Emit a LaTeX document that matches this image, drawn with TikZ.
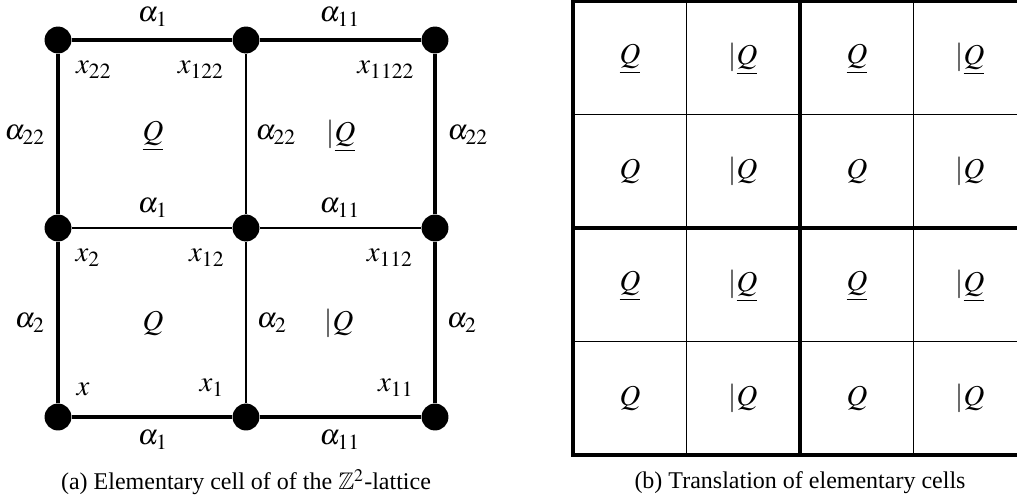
\documentclass[tikz,border=0pt]{standalone}
\usepackage{amssymb}
\usepackage{mathptmx}
\usepackage{fontspec}
\setmainfont{Liberation Serif}
\begin{document}
\begin{tikzpicture}[x=0.41667pt,y=-0.41667pt,
  dot/.style={circle,fill=black,inner sep=0pt,minimum size=11.2pt},
  thickedge/.style={line width=1.7pt},
  thinedge/.style={line width=0.45pt},
  lbl/.style={inner sep=0pt,font=\fontsize{12}{14}\selectfont},
  captext/.style={inner sep=0pt,font=\fontsize{10}{12}\selectfont}]
\useasboundingbox (0,0) rectangle (1017,500);
% ---------- left: elementary cell ----------
\node[dot] (d00) at (58,417) {};
\node[dot] (d10) at (246,417) {};
\node[dot] (d20) at (435,417) {};
\node[dot] (d01) at (58,228) {};
\node[dot] (d11) at (246,228) {};
\node[dot] (d21) at (435,228) {};
\node[dot] (d02) at (58,40) {};
\node[dot] (d12) at (246,40) {};
\node[dot] (d22) at (435,40) {};
\draw[thickedge] (d02) -- (d12);
\draw[thickedge] (d12) -- (d22);
\draw[thickedge] (d00) -- (d10);
\draw[thickedge] (d10) -- (d20);
\draw[thickedge] (d00) -- (d01);
\draw[thickedge] (d01) -- (d02);
\draw[thickedge] (d20) -- (d21);
\draw[thickedge] (d21) -- (d22);
\draw[thinedge] (d01) -- (d11);
\draw[thinedge] (d11) -- (d21);
\draw[thinedge] (d10) -- (d11);
\draw[thinedge] (d11) -- (d12);
% edge labels
\node[lbl] (a1t) at (153,17) {$\alpha_1$};
\node[lbl] (a11t) at (340,17) {$\alpha_{11}$};
\node[lbl] (a1m) at (153,208) {$\alpha_1$};
\node[lbl] (a11m) at (340,208) {$\alpha_{11}$};
\node[lbl] (a1b) at (153,440) {$\alpha_1$};
\node[lbl] (a11b) at (340,440) {$\alpha_{11}$};
\node[lbl] (a22l) at (25,135) {$\alpha_{22}$};
\node[lbl] (a22m) at (276,135) {$\alpha_{22}$};
\node[lbl] (a22r) at (468,135) {$\alpha_{22}$};
\node[lbl] (a2l) at (30,323) {$\alpha_2$};
\node[lbl] (a2m) at (272,323) {$\alpha_2$};
\node[lbl] (a2r) at (462,323) {$\alpha_2$};
% vertex labels
\node[lbl] (x22) at (94,70) {$x_{22}$};
\node[lbl] (x122) at (201,70) {$x_{122}$};
\node[lbl] (x1122) at (386,70) {$x_{1122}$};
\node[lbl] (x2) at (88,258) {$x_{2}$};
\node[lbl] (x12) at (207,258) {$x_{12}$};
\node[lbl] (x112) at (390,258) {$x_{112}$};
\node[lbl] (x0) at (83,389) {$x$};
\node[lbl] (x1) at (212,388) {$x_{1}$};
\node[lbl] (x11) at (396,388) {$x_{11}$};
% cell labels
\node[lbl] (qa) at (153,136) {$\underline{Q}$};
\node[lbl] (qb) at (341,136) {$|\underline{Q}$};
\node[lbl] (qc) at (153,323) {$Q$};
\node[lbl] (qd) at (339,323) {$|Q$};
\node[captext] (capa) at (246,482) {(a) Elementary cell of of the $\mathbb{Z}^2$-lattice};
% ---------- right: translation grid ----------
\draw[thinedge] (686.5,1) -- (686.5,455);
\draw[thinedge] (913.5,1) -- (913.5,455);
\draw[thinedge] (573,114.5) -- (1027,114.5);
\draw[thinedge] (573,341.5) -- (1027,341.5);
\draw[thickedge] (800,1) -- (800,455);
\draw[thickedge] (573,228) -- (1027,228);
\draw[thickedge] (573,1) rectangle (1027,455);
\foreach \c/\cx in {1/630,3/857}{
  \node[lbl] (g\c a) at (\cx,59) {$\underline{Q}$};
  \node[lbl] (g\c b) at (\cx,171) {$Q$};
  \node[lbl] (g\c c) at (\cx,286) {$\underline{Q}$};
  \node[lbl] (g\c d) at (\cx,398) {$Q$};
}
\foreach \c/\cx in {2/743,4/970}{
  \node[lbl] (g\c a) at (\cx,59) {$|\underline{Q}$};
  \node[lbl] (g\c b) at (\cx,171) {$|Q$};
  \node[lbl] (g\c c) at (\cx,286) {$|\underline{Q}$};
  \node[lbl] (g\c d) at (\cx,398) {$|Q$};
}
\node[captext] (capb) at (800,483) {(b) Translation of elementary cells};
\end{tikzpicture}
\end{document}
